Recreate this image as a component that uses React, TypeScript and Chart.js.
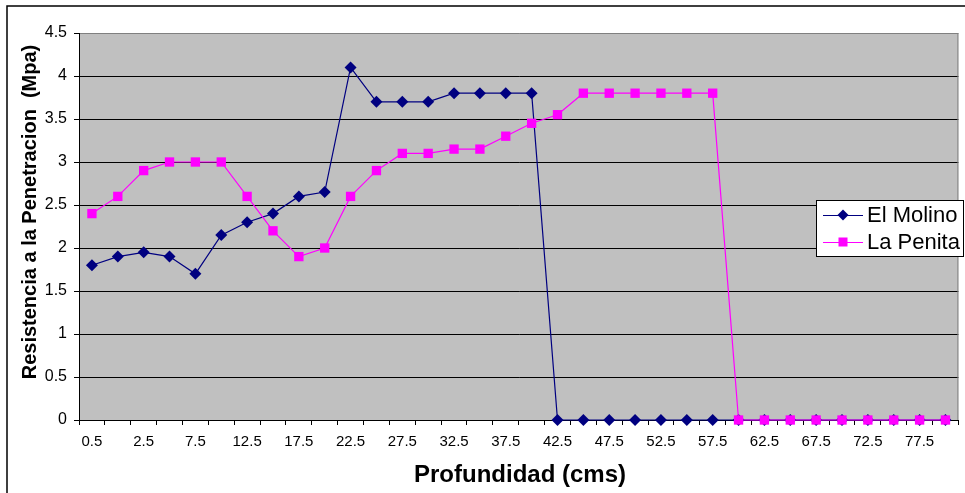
import React, { useEffect, useRef } from 'react';
import { Chart, registerables } from 'chart.js';

Chart.register(...registerables);

const depths: string[] = [
  '0.5', '1.5', '2.5', '5', '7.5', '10', '12.5', '15', '17.5', '20', '22.5', '25',
  '27.5', '30', '32.5', '35', '37.5', '40', '42.5', '45', '47.5', '50', '52.5', '55',
  '57.5', '60', '62.5', '65', '67.5', '70', '72.5', '75', '77.5', '80',
];

const elMolino: number[] = [
  1.8, 1.9, 1.95, 1.9, 1.7, 2.15, 2.3, 2.4, 2.6, 2.65, 4.1, 3.7, 3.7, 3.7, 3.8, 3.8, 3.8, 3.8,
  0, 0, 0, 0, 0, 0, 0, 0, 0, 0, 0, 0, 0, 0, 0, 0,
];

const laPenita: number[] = [
  2.4, 2.6, 2.9, 3.0, 3.0, 3.0, 2.6, 2.2, 1.9, 2.0, 2.6, 2.9, 3.1, 3.1, 3.15, 3.15, 3.3, 3.45,
  3.55, 3.8, 3.8, 3.8, 3.8, 3.8, 3.8, 0, 0, 0, 0, 0, 0, 0, 0, 0,
];

const seriesNames = ['El Molino', 'La Penita'];
const xTitle = 'Profundidad (cms)';
const yTitle = 'Resistencia a la Penetracion  (Mpa)';

const NAVY = '#000080';
const MAGENTA = '#FF00FF';
const FONT = '"Liberation Sans", Arial, sans-serif';

const decor = {
  id: 'decor',
  beforeDraw(chart: any) {
    const { ctx, chartArea: a } = chart;
    ctx.save();
    ctx.fillStyle = '#ffffff';
    ctx.fillRect(0, 0, chart.width, chart.height);
    ctx.fillStyle = '#C0C0C0';
    ctx.fillRect(a.left, a.top, a.right - a.left, a.bottom - a.top);
    ctx.strokeStyle = '#000';
    ctx.lineWidth = 1.5;
    ctx.strokeRect(7, 6, 1200, 800);
    ctx.restore();
  },
  afterDatasetsDraw(chart: any) {
    const { ctx, chartArea: a } = chart;
    ctx.save();
    ctx.strokeStyle = '#808080';
    ctx.lineWidth = 1;
    ctx.beginPath();
    ctx.moveTo(a.right - 0.5, a.top);
    ctx.lineTo(a.right - 0.5, a.bottom);
    ctx.stroke();
    ctx.restore();
  },
  afterDraw(chart: any) {
    const { ctx } = chart;
    ctx.save();
    ctx.fillStyle = '#000';
    // x title
    ctx.font = `bold 24px ${FONT}`;
    ctx.textAlign = 'center';
    ctx.textBaseline = 'alphabetic';
    ctx.fillText(xTitle, 520, 482);
    // y title
    ctx.translate(36, 212);
    ctx.rotate(-Math.PI / 2);
    ctx.font = `bold 20px ${FONT}`;
    ctx.fillText(yTitle, 0, 0);
    ctx.restore();

    // legend
    ctx.save();
    const bx = 816, by = 200, bw = 147, bh = 56;
    ctx.fillStyle = '#fff';
    ctx.fillRect(bx, by, bw, bh);
    ctx.strokeStyle = '#000';
    ctx.lineWidth = 1;
    ctx.strokeRect(bx + 0.5, by + 0.5, bw, bh);
    const rows = [215, 242];
    const colors = [NAVY, MAGENTA];
    ctx.font = `22px ${FONT}`;
    ctx.textBaseline = 'middle';
    ctx.textAlign = 'left';
    rows.forEach((ry, i) => {
      ctx.strokeStyle = colors[i];
      ctx.lineWidth = 1;
      ctx.beginPath();
      ctx.moveTo(823, ry + 0.5);
      ctx.lineTo(863, ry + 0.5);
      ctx.stroke();
      ctx.fillStyle = colors[i];
      ctx.beginPath();
      if (i === 0) {
        ctx.moveTo(843, ry - 5.5);
        ctx.lineTo(848.5, ry);
        ctx.lineTo(843, ry + 5.5);
        ctx.lineTo(837.5, ry);
        ctx.closePath();
        ctx.fill();
      } else {
        ctx.fillRect(838.5, ry - 4.5, 9, 9);
      }
      ctx.fillStyle = '#000';
      ctx.fillText(seriesNames[i], 867, ry + 1);
    });
    ctx.restore();
  },
};

export default function App() {
  const ref = useRef<HTMLCanvasElement | null>(null);
  useEffect(() => {
    if (!ref.current) return;
    const chart = new Chart(ref.current, {
      type: 'line',
      data: {
        labels: depths,
        datasets: [
          {
            label: seriesNames[0],
            data: elMolino,
            borderColor: NAVY,
            backgroundColor: NAVY,
            borderWidth: 1.2,
            pointStyle: 'rectRot',
            pointRadius: 6,
            pointBorderWidth: 0,
            pointBackgroundColor: NAVY,
            tension: 0,
            clip: false,
            order: 1,
          },
          {
            label: seriesNames[1],
            data: laPenita,
            borderColor: MAGENTA,
            backgroundColor: MAGENTA,
            borderWidth: 1.2,
            pointStyle: 'rect',
            pointRadius: 6.6,
            pointBorderWidth: 0,
            pointBackgroundColor: MAGENTA,
            tension: 0,
            clip: false,
            order: 0,
          },
        ],
      },
      options: {
        animation: false,
        responsive: false,
        maintainAspectRatio: false,
        layout: { padding: { top: 33, right: 2, left: 0, bottom: 0 } },
        plugins: { legend: { display: false }, tooltip: { enabled: false } },
        scales: {
          x: {
            type: 'category',
            offset: true,
            grid: {
              offset: true,
              drawOnChartArea: false,
              drawTicks: true,
              tickLength: 5,
              color: '#000',
            },
            border: { color: '#000', width: 1 },
            ticks: {
              autoSkip: false,
              maxRotation: 0,
              minRotation: 0,
              padding: 8,
              color: '#000',
              font: { family: FONT, size: 15 },
              callback: (_v: any, i: number) => (i % 2 === 0 ? depths[i] : ''),
            },
            afterFit: (s: any) => {
              s.height = 73;
            },
          },
          y: {
            min: 0,
            max: 4.5,
            grid: {
              color: (c: any) => (c.tick && c.tick.value === 4.5 ? '#808080' : '#000'),
              tickColor: '#000',
              tickLength: 5,
              lineWidth: 1,
            },
            border: { color: '#000', width: 1 },
            ticks: {
              stepSize: 0.5,
              padding: 7,
              color: '#000',
              font: { family: FONT, size: 16 },
              callback: (v: any) => String(Number(v)),
            },
            afterFit: (s: any) => {
              s.width = 79;
            },
          },
        },
      },
      plugins: [decor],
    });
    return () => chart.destroy();
  }, []);
  return (
    <div style={{ position: 'absolute', left: 0, top: 0, width: 965, height: 493 }}>
      <canvas ref={ref} width={965} height={493} style={{ display: 'block' }} />
    </div>
  );
}
